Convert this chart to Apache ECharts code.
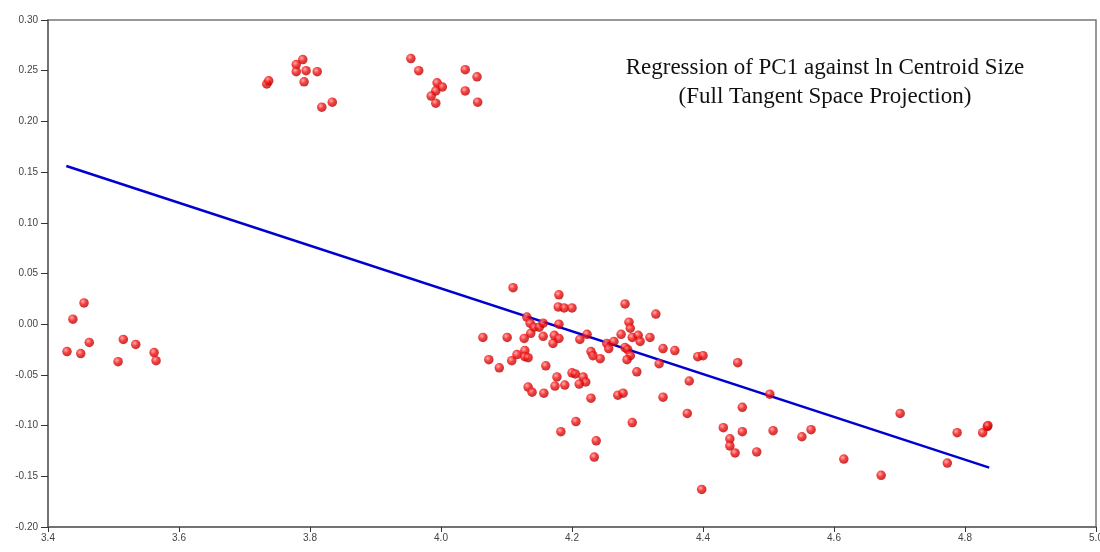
<!DOCTYPE html>
<html>
<head>
<meta charset="utf-8">
<script src="https://cdn.jsdelivr.net/npm/echarts@6/dist/echarts.min.js"></script>
<style>
html,body{margin:0;padding:0;background:#fff;}
#chart{width:1100px;height:552px;}
</style>
</head>
<body>
<div id="chart"></div>
<script>
const titleLines = ["Regression of PC1 against ln Centroid Size", "(Full Tangent Space Projection)"];
const xTicks = [3.4, 3.6, 3.8, 4.0, 4.2, 4.4, 4.6, 4.8, 5.0];
const yTicks = [-0.20, -0.15, -0.10, -0.05, 0.00, 0.05, 0.10, 0.15, 0.20, 0.25, 0.30];

const lnCentroidSize = [
  3.734,3.737,3.779,3.789,3.779,3.794,3.811,3.791,3.818,3.834,
  3.954,3.966,3.994,4.002,3.992,3.985,3.992,4.037,4.055,4.037,4.056,
  3.455,3.438,3.463,3.429,3.450,3.515,3.534,3.507,3.562,3.565,
  4.110,4.180,4.179,4.188,4.200,4.281,4.328,4.131,4.136,4.142,
  4.150,4.156,4.180,4.137,4.127,4.156,4.173,4.180,4.171,4.064,
  4.101,4.212,4.223,4.287,4.289,4.275,4.292,4.301,4.304,4.319,
  4.253,4.256,4.264,4.281,4.285,4.289,4.284,4.339,4.357,4.392,
  4.400,4.453,4.229,4.232,4.243,4.128,4.116,4.108,4.128,4.133,
  4.073,4.089,4.160,4.333,4.299,4.200,4.205,4.217,4.177,4.221,
  4.211,4.189,4.174,4.133,4.139,4.157,4.379,4.270,4.278,4.229,
  4.339,4.460,4.376,4.206,4.292,4.183,4.431,4.460,4.237,4.441,
  4.441,4.449,4.482,4.234,4.398,
  4.502,4.701,4.507,4.551,4.565,4.615,4.672,4.788,4.773,4.827,4.834,4.835
];
const pc1Scores = [
  0.237,0.240,0.256,0.261,0.249,0.250,0.249,0.239,0.214,0.219,
  0.262,0.250,0.238,0.234,0.230,0.225,0.218,0.251,0.244,0.230,0.219,
  0.021,0.005,-0.018,-0.027,-0.029,-0.015,-0.020,-0.037,-0.028,-0.036,
  0.036,0.029,0.017,0.016,0.016,0.020,0.010,0.007,0.001,-0.003,
  -0.003,0.001,0.000,-0.009,-0.014,-0.012,-0.011,-0.014,-0.019,-0.013,
  -0.013,-0.015,-0.010,0.002,-0.004,-0.010,-0.013,-0.011,-0.017,-0.013,
  -0.019,-0.024,-0.017,-0.023,-0.025,-0.031,-0.035,-0.024,-0.026,-0.032,
  -0.031,-0.038,-0.027,-0.031,-0.034,-0.026,-0.030,-0.036,-0.032,-0.033,
  -0.035,-0.043,-0.041,-0.039,-0.047,-0.048,-0.049,-0.052,-0.052,-0.057,
  -0.059,-0.060,-0.061,-0.062,-0.067,-0.068,-0.056,-0.070,-0.068,-0.073,
  -0.072,-0.082,-0.088,-0.096,-0.097,-0.106,-0.102,-0.106,-0.115,-0.113,
  -0.120,-0.127,-0.126,-0.131,-0.163,
  -0.069,-0.088,-0.105,-0.111,-0.104,-0.133,-0.149,-0.107,-0.137,-0.107,-0.101,-0.100
];
const fitX = [3.428, 4.837];
const fitY = [0.156, -0.1415];

const points = lnCentroidSize.map((x, i) => [x, pc1Scores[i]]);
const fitLine = fitX.map((x, i) => [x, fitY[i]]);

const chart = echarts.init(document.getElementById('chart'), null, {renderer: 'canvas'});
const labelStyle = {fontFamily: 'Liberation Sans, Arial, sans-serif', fontSize: 10, color: '#444'};
chart.setOption({
  animation: false,
  backgroundColor: '#fff',
  grid: {left: 48, right: 4, top: 20, bottom: 25, containLabel: false, outerBoundsMode: 'none',
         show: true, borderColor: '#777', borderWidth: 1.5, backgroundColor: 'transparent'},
  title: {
    text: titleLines.join('\n'),
    left: 820, top: 48, textAlign: 'center',
    textStyle: {fontFamily: 'Liberation Serif, Times New Roman, serif', fontSize: 23, fontWeight: 'normal', color: '#111', lineHeight: 29}
  },
  xAxis: {
    type: 'value', min: 3.4, max: 5.0, interval: 0.2,
    axisLine: {show: true, onZero: false, lineStyle: {color: '#666', width: 1.5}},
    axisTick: {show: true, length: 5, lineStyle: {color: '#333', width: 1}},
    axisLabel: Object.assign({margin: 6, formatter: v => xTicks.find(t => Math.abs(t - v) < 1e-6).toFixed(1)}, labelStyle),
    splitLine: {show: false}
  },
  yAxis: {
    type: 'value', min: -0.20, max: 0.30, interval: 0.05,
    axisLine: {show: true, onZero: false, lineStyle: {color: '#666', width: 1.5}},
    axisTick: {show: true, length: 7, lineStyle: {color: '#333', width: 1}},
    axisLabel: Object.assign({margin: 10, formatter: v => yTicks.find(t => Math.abs(t - v) < 1e-6).toFixed(2)}, labelStyle),
    splitLine: {show: false}
  },
  series: [
    {
      type: 'line', data: fitLine, symbol: 'none', z: 2,
      lineStyle: {color: '#0000d0', width: 2.5}
    },
    {
      type: 'scatter', data: points, symbol: 'circle', symbolSize: 9.5, z: 3,
      itemStyle: {
        color: new echarts.graphic.RadialGradient(0.38, 0.35, 0.7, [
          {offset: 0, color: '#ff9a9a'},
          {offset: 0.45, color: '#f51010'},
          {offset: 1, color: '#a80000'}
        ]),
        borderWidth: 0
      }
    }
  ]
});
</script>
</body>
</html>
